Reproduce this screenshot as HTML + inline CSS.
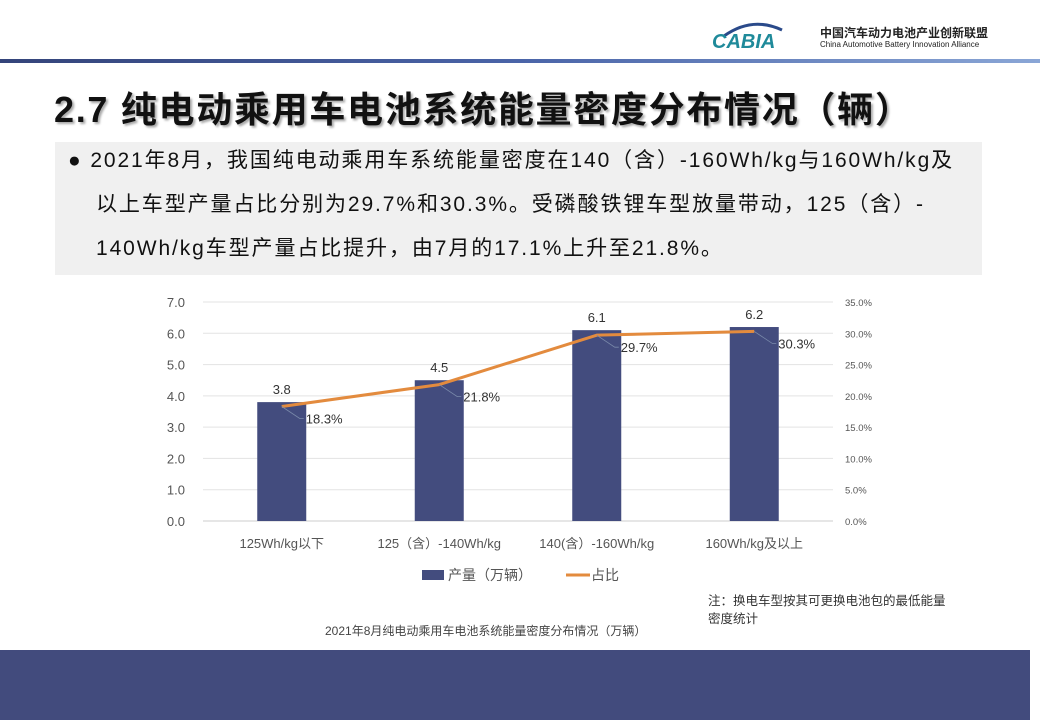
<!DOCTYPE html>
<html><head><meta charset="utf-8"><style>
body{margin:0;width:1040px;height:720px;overflow:hidden;background:#fff;font-family:"Liberation Sans","Noto Sans CJK SC",sans-serif;position:relative}
.abs{position:absolute}
</style></head><body>
<div class="abs" style="left:712px;top:18px;width:290px;height:36px">
<svg width="100" height="36" class="abs" style="left:0;top:0"><path d="M12 18 Q40 -2 70 12" stroke="#2a4a8a" stroke-width="3" fill="none"/><text x="0" y="30" font-size="20" font-style="italic" font-weight="bold" fill="#1f8a9a" font-family="Liberation Sans">CABIA</text></svg>
<div class="abs" style="left:108px;top:6px;font-size:12px;font-weight:bold;color:#222;white-space:nowrap">中国汽车动力电池产业创新联盟</div>
<div class="abs" style="left:108px;top:22px;font-size:8px;color:#222;white-space:nowrap">China Automotive Battery Innovation Alliance</div>
</div>
<div class="abs" style="left:0;top:59px;width:1040px;height:4px;background:linear-gradient(90deg,#34447a,#4a64a8,#8aa6d6)"></div>
<div class="abs" style="left:54px;top:81px;font-size:36px;letter-spacing:1.7px;font-weight:bold;color:#111;white-space:nowrap;text-shadow:2px 2px 2px #aaa">2.7 纯电动乘用车电池系统能量密度分布情况（辆）</div>
<div class="abs" style="left:55px;top:142px;width:927px;height:133px;background:#f0f0f0"></div>
<div class="abs" style="left:68px;top:139px;width:910px;font-size:21px;letter-spacing:1.9px;line-height:44px;color:#111">
<div style="white-space:nowrap">●&nbsp;2021年8月，我国纯电动乘用车系统能量密度在140（含）-160Wh/kg与160Wh/kg及</div>
<div style="padding-left:28px;white-space:nowrap">以上车型产量占比分别为29.7%和30.3%。受磷酸铁锂车型放量带动，125（含）-</div>
<div style="padding-left:28px;white-space:nowrap">140Wh/kg车型产量占比提升，由7月的17.1%上升至21.8%。</div>
</div>
<svg class="abs" style="left:0;top:0" width="1040" height="720" id="chart"></svg>
<div class="abs" style="left:708px;top:592px;font-size:12.5px;line-height:18px;color:#333;width:300px">注：换电车型按其可更换电池包的最低能量<br>密度统计</div>
<div class="abs" style="left:325px;top:622px;font-size:12px;color:#444;white-space:nowrap">2021年8月纯电动乘用车电池系统能量密度分布情况（万辆）</div>
<div class="abs" style="left:0;top:650px;width:1030px;height:70px;background:#424b7d"></div>
<script>
const categories=["125Wh/kg以下","125（含）-140Wh/kg","140(含）-160Wh/kg","160Wh/kg及以上"];
const production=[3.8,4.5,6.1,6.2];
const shares=[18.3,21.8,29.7,30.3];
const leftTicks=["0.0","1.0","2.0","3.0","4.0","5.0","6.0","7.0"];
const rightTicks=["0.0%","5.0%","10.0%","15.0%","20.0%","25.0%","30.0%","35.0%"];
const svg=document.getElementById('chart');
const NS="http://www.w3.org/2000/svg";
const x0=203,x1=833,yb=521,yt=302;
const yL=v=>yb-(v/7)*(yb-yt);
const yR=v=>yb-(v/35)*(yb-yt);
const xC=i=>x0+(i+0.5)*(x1-x0)/categories.length;
function mk(t,a,txt){const e=document.createElementNS(NS,t);for(const k in a)e.setAttribute(k,a[k]);if(txt!==undefined)e.textContent=txt;svg.appendChild(e);return e;}
leftTicks.forEach((t,i)=>{
 const y=yL(i);
 const g=mk('line',{x1:x0,x2:x1,y1:y,y2:y,stroke:i==0?'#ccc':'#e3e3e3','stroke-width':1});
 
 
 const l=mk('text',{x:185,y:y+5,'text-anchor':'end','font-size':13,fill:'#555'},t);
 
 
});
rightTicks.forEach((t,i)=>{
 const l=mk('text',{x:845,y:yR(i*5)+4,'font-size':9.5,fill:'#555'},t);
 
 
});
categories.forEach((c,i)=>{
 const cx=xC(i),v=production[i];
 const b=mk('rect',{x:cx-24.5,y:yL(v),width:49,height:yb-yL(v),fill:'#434c7e'});
 
 
 const bl=mk('text',{x:cx,y:yL(v)-8,'text-anchor':'middle','font-size':13,fill:'#333'},v.toFixed(1));
 
 
 const cl=mk('text',{x:cx,y:548,'text-anchor':'middle','font-size':13,fill:'#555'},c);
 
 
});
const pts=shares.map((s,i)=>xC(i)+','+yR(s)).join(' ');
const ln=mk('polyline',{points:pts,fill:'none',stroke:'#e38b3e','stroke-width':3,'stroke-linejoin':'round'});


shares.forEach((s,i)=>{
 const x=xC(i),y=yR(s);
 const ll=mk('polyline',{points:`${x},${y} ${x+18},${y+12} ${x+22},${y+12}`,fill:'none',stroke:'#7a8aaa','stroke-width':0.8});
 
 
 const t=mk('text',{x:x+24,y:y+17,'font-size':13,fill:'#333'},s.toFixed(1)+'%');
 
 
});
const lg1=mk('rect',{x:422,y:570,width:22,height:10,fill:'#434c7e'});


const lt1=mk('text',{x:448,y:580,'font-size':14,fill:'#555'},'产量（万辆）');


const lg2=mk('line',{x1:566,x2:590,y1:575,y2:575,stroke:'#e38b3e','stroke-width':3});


const lt2=mk('text',{x:591,y:580,'font-size':14,fill:'#555'},'占比');


</script>
</body></html>
